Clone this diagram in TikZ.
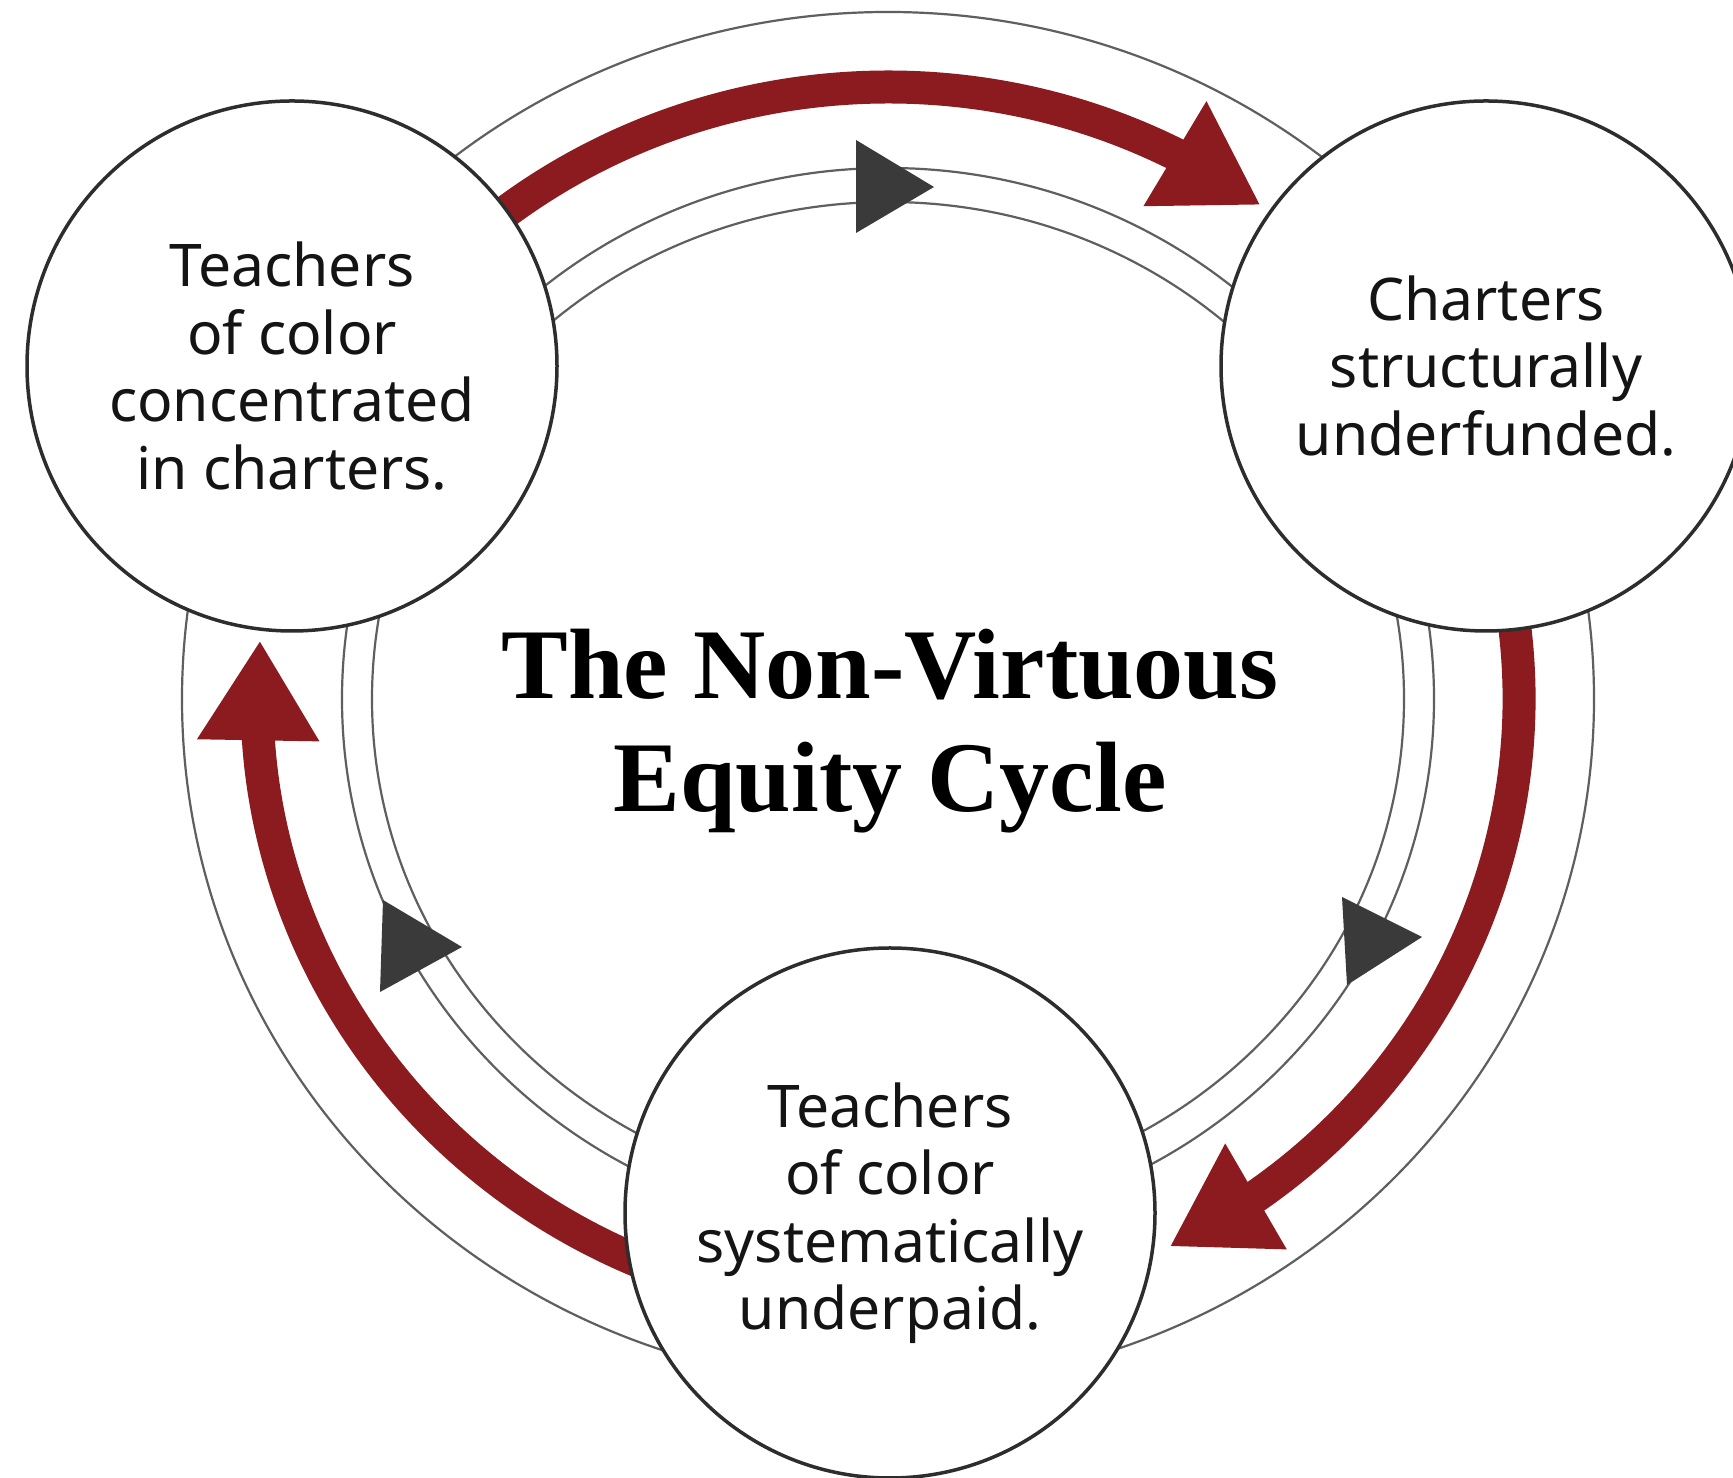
\documentclass[tikz,border=0pt]{standalone}
\usepackage{fontspec}
\setmainfont{Liberation Serif}
\newfontfamily\bodyfont{Noto Sans}
\usetikzlibrary{arrows.meta,calc,bending}
\pgfdeclarelayer{bg}
\pgfsetlayers{bg,main}
\definecolor{cred}{RGB}{139,27,31}
\definecolor{cline}{RGB}{95,95,95}
\definecolor{ccirc}{RGB}{45,45,45}
\definecolor{ctri}{RGB}{58,58,58}
\definecolor{ctext}{RGB}{20,20,20}
\begin{document}
\begin{tikzpicture}[x=1pt,y=1pt,
  circ/.style={circle, draw=ccirc, line width=3.5pt, fill=white, minimum size=530pt,
    inner sep=0pt, align=center, text=ctext,
    font=\bodyfont\fontsize{58.8}{67.5}\selectfont},
  ring/.style={draw=cline, line width=2.2pt},
  flow/.style={draw=cred, line width=33pt, -{Triangle[width=115pt,length=100pt,flex]}},
  marker/.style={fill=ctri},
  title/.style={anchor=base, text=black, font=\fontsize{100}{114}\selectfont\bfseries}]
\useasboundingbox (0,0) rectangle (1733,1478);
\coordinate (o) at (888,779);
% nodes
\node[circ] (n1) at (292,1112) {Teachers\\of color\\concentrated\\in charters.};
\node[circ] (n2) at (1486,1112) {Charters\\structurally\\underfunded.};
\node[circ] (n3) at (890,265) {Teachers\\of color\\systematically\\underpaid.};
% title
\node[title] (t1) at (890,779) {The Non-Virtuous};
\node[title] (t2) at (890,666) {Equity Cycle};
% ring and flows behind the circles
\begin{pgfonlayer}{bg}
\fill[white] (0,0) rectangle (1733,1478);
\draw[ring] (o) ellipse [x radius=706pt, y radius=687pt];
\draw[ring] (o) ellipse [x radius=546pt, y radius=531pt];
\draw[ring] (o) ellipse [x radius=516pt, y radius=497pt];
\coordinate (s1) at ($(o)+(140:631pt and 612pt)$);
\coordinate (s2) at ($(o)+(20:631pt and 612pt)$);
\coordinate (s3) at ($(o)+(-100:631pt and 612pt)$);
\draw[flow] (s1) arc[start angle=140, end angle=53.8, x radius=631pt, y radius=612pt];
\draw[flow] (s2) arc[start angle=20, end angle=-63.5, x radius=631pt, y radius=612pt];
\draw[flow] (s3) arc[start angle=-100, end angle=-185.5, x radius=631pt, y radius=612pt];
\end{pgfonlayer}
% direction markers
\fill[marker] (856,1338) -- (856,1245) -- (934,1291) -- cycle;
\fill[marker] (383,578) -- (380,486) -- (462,531) -- cycle;
\fill[marker] (1342,581) -- (1347,493) -- (1422,541) -- cycle;
\end{tikzpicture}
\end{document}
